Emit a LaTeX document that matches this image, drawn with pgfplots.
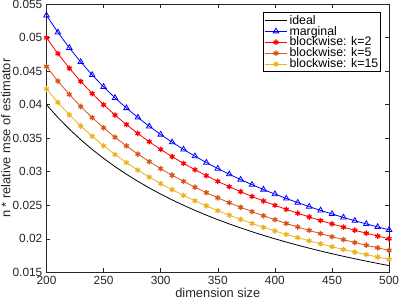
\documentclass[border=0pt]{standalone}
\usepackage{fontspec}
\setmainfont{Liberation Sans}
\usepackage{pgfplots}
\pgfplotsset{compat=1.18}
\usepackage{pgfplotstable}
\definecolor{mblue}{rgb}{0,0,1}
\definecolor{mred}{rgb}{1,0,0}
\definecolor{morange}{rgb}{0.85,0.325,0.098}
\definecolor{myellow}{rgb}{0.929,0.694,0.125}
\pgfplotstableread{
n ideal marg k2 k5 k15
200 0.04 0.053333 0.05 0.0457 0.04235
210 0.038095 0.050794 0.047619 0.043524 0.040333
220 0.036364 0.048485 0.045455 0.041545 0.0385
230 0.034783 0.046377 0.043478 0.039739 0.036826
240 0.033333 0.044444 0.041667 0.038083 0.035292
250 0.032 0.042667 0.04 0.03656 0.03388
260 0.030769 0.041026 0.038462 0.035154 0.032577
270 0.02963 0.039506 0.037037 0.033852 0.03137
280 0.028571 0.038095 0.035714 0.032643 0.03025
290 0.027586 0.036782 0.034483 0.031517 0.029207
300 0.026667 0.035556 0.033333 0.030467 0.028233
310 0.025806 0.034409 0.032258 0.029484 0.027323
320 0.025 0.033333 0.03125 0.028563 0.026469
330 0.024242 0.032323 0.030303 0.027697 0.025667
340 0.023529 0.031373 0.029412 0.026882 0.024912
350 0.022857 0.030476 0.028571 0.026114 0.0242
360 0.022222 0.02963 0.027778 0.025389 0.023528
370 0.021622 0.028829 0.027027 0.024703 0.022892
380 0.021053 0.02807 0.026316 0.024053 0.022289
390 0.020513 0.02735 0.025641 0.023436 0.021718
400 0.02 0.026667 0.025 0.02285 0.021175
410 0.019512 0.026016 0.02439 0.022293 0.020659
420 0.019048 0.025397 0.02381 0.021762 0.020167
430 0.018605 0.024806 0.023256 0.021256 0.019698
440 0.018182 0.024242 0.022727 0.020773 0.01925
450 0.017778 0.023704 0.022222 0.020311 0.018822
460 0.017391 0.023188 0.021739 0.01987 0.018413
470 0.017021 0.022695 0.021277 0.019447 0.018021
480 0.016667 0.022222 0.020833 0.019042 0.017646
490 0.016327 0.021769 0.020408 0.018653 0.017286
500 0.016 0.021333 0.02 0.01828 0.01694
}\data
\begin{document}
\begin{tikzpicture}
\begin{axis}[
  scale only axis,
  width=345bp, height=270bp,
  xmin=200, xmax=500, ymin=0.015, ymax=0.055,
  xtick={200,250,...,500},
  ytick={0.015,0.02,0.025,0.03,0.035,0.04,0.045,0.05,0.055},
  yticklabels={0.015,0.02,0.025,0.03,0.035,0.04,0.045,0.05,0.055},
  scaled y ticks=false,
  /pgf/number format/assume math mode=true,
  tick align=inside,
  major tick length=4bp,
  axis line style={line width=0.8pt, black!85},
  tick style={black!85, line width=0.6pt},
  ticklabel style={font=\fontsize{12}{13}\selectfont, text=black!85},
  xticklabel style={inner sep=0pt, yshift=-4bp},
  yticklabel style={inner sep=0pt, xshift=-4bp},
  label style={font=\fontsize{13}{15}\selectfont, text=black!85},
  xlabel={dimension size},
  ylabel={n * relative mse of estimator},
  xlabel style={at={(axis description cs:0.5,0)}, anchor=base, inner xsep=1pt, inner ysep=3pt, yshift=-25bp},
  ylabel style={inner sep=1pt, yshift=1bp},
  legend style={at={(0.977,0.97)}, anchor=north east, font=\fontsize{12.5}{13}\selectfont,
    draw=black, line width=0.8pt, inner sep=0.5pt, row sep=-3.5pt, cells={anchor=west}},
  legend image code/.code={\draw[#1] (0cm,0cm) -- (0.8cm,0cm); \draw[#1, only marks] plot coordinates {(0.4cm,0cm)};},
  every axis plot/.append style={line width=0.8pt},
]
\addplot[black, no marks] table[x=n,y=ideal]{\data};
\addlegendentry{ideal}
\addplot[mblue, mark=triangle, mark size=3.2pt, mark options={line width=0.8pt}] table[x=n,y=marg]{\data};
\addlegendentry{marginal}
\addplot[mred, mark=asterisk, mark size=2.8pt, mark options={line width=1.3pt}] table[x=n,y=k2]{\data};
\addlegendentry{blockwise: k=2}
\addplot[morange, mark=asterisk, mark size=2.8pt, mark options={line width=1.3pt}] table[x=n,y=k5]{\data};
\addlegendentry{blockwise: k=5}
\addplot[myellow, mark=asterisk, mark size=2.8pt, mark options={line width=1.3pt}] table[x=n,y=k15]{\data};
\addlegendentry{blockwise: k=15}
\end{axis}
\end{tikzpicture}
\end{document}
